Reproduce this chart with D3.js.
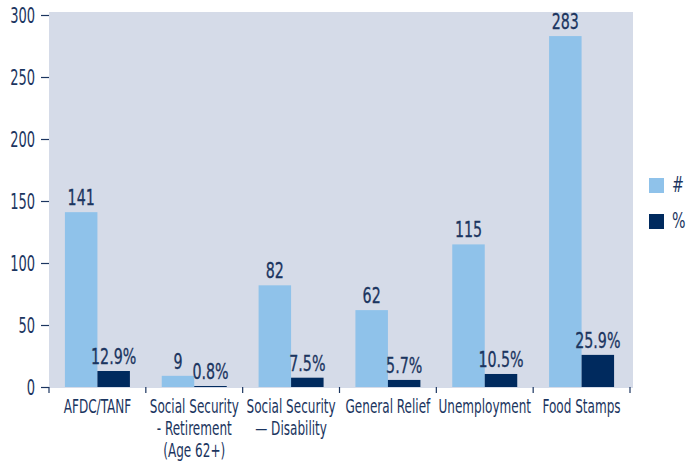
<!DOCTYPE html>
<html>
<head>
<meta charset="utf-8">
<script src="https://cdn.jsdelivr.net/npm/d3@7"></script>
<style>
  html, body { margin: 0; padding: 0; background: #ffffff; }
  svg { display: block; }
  text { font-family: "DejaVu Sans Condensed", "DejaVu Sans", sans-serif; fill: #1b3560; }
</style>
</head>
<body>
<svg id="chart" width="687" height="464"></svg>
<script>
// Program categories (each entry is a list of label lines)
const categories = ["AFDC/TANF", "Social Security Retirement", "Social Security Disability", "General Relief", "Unemployment", "Food Stamps"];
const categoryLines = [
  ["AFDC/TANF"],
  ["Social Security", "- Retirement", "(Age 62+)"],
  ["Social Security", "\u2014 Disability"],
  ["General Relief"],
  ["Unemployment"],
  ["Food Stamps"]
];
// Series: count of people and percentage
const seriesNames = ["#", "%"];
const countValues = [141, 9, 82, 62, 115, 283];
const percentValues = [12.9, 0.8, 7.5, 5.7, 10.5, 25.9];
const yTicks = [0, 50, 100, 150, 200, 250, 300];

const colors = { "#": "#8fc2ea", "%": "#002a5e" };
const textColor = "#1b3560";

const svg = d3.select("#chart");

const plot = { left: 49, right: 633, top: 12, bottom: 388 };

const y = d3.scaleLinear().domain([0, 300]).range([387, 15]);
const x0 = d3.scaleBand().domain(categories).range([49, 630]).paddingInner(0).paddingOuter(0);
const x1 = d3.scaleBand().domain(seriesNames).range([0, x0.bandwidth()]).paddingInner(0).paddingOuter(0.49);

// Condensed text helper
function label(parent, xPos, yPos, str, anchor, size, squeeze) {
  const g = parent.append("g").attr("transform", `translate(${xPos},${yPos})`);
  g.append("text")
    .attr("transform", `scale(${squeeze},1)`)
    .attr("text-anchor", anchor)
    .attr("font-size", size)
    .text(str);
  return g;
}

// Plot background
svg.append("rect")
  .attr("x", plot.left).attr("y", plot.top)
  .attr("width", plot.right - plot.left).attr("height", plot.bottom - plot.top)
  .attr("fill", "#d5dbe8");

// Y axis
const yAxis = d3.axisLeft(y).tickValues(yTicks).tickSize(8).tickFormat("");
const yG = svg.append("g").attr("transform", `translate(${plot.left},0)`).call(yAxis);
yG.select(".domain").remove();
yG.selectAll(".tick line").attr("stroke", textColor).attr("stroke-width", 1.2);
yTicks.forEach(t => label(svg, 35, y(t) + 7.5, String(t), "end", 21, 0.69));

// X axis boundary ticks
const bounds = categories.map(c => x0(c)).concat([x0(categories[categories.length - 1]) + x0.bandwidth()]);
svg.append("g").selectAll("line").data(bounds).join("line")
  .attr("x1", d => d).attr("x2", d => d)
  .attr("y1", 387).attr("y2", 393)
  .attr("stroke", textColor).attr("stroke-width", 1.2);

// Bars
const rows = categories.map((c, i) => ({ cat: c, vals: [
  { key: "#", v: countValues[i], txt: String(countValues[i]) },
  { key: "%", v: percentValues[i], txt: percentValues[i].toFixed(1) + "%" }
]}));

const groups = svg.append("g").selectAll("g").data(rows).join("g")
  .attr("transform", d => `translate(${x0(d.cat)},0)`);

groups.selectAll("rect").data(d => d.vals).join("rect")
  .attr("x", d => x1(d.key))
  .attr("y", d => y(d.v))
  .attr("width", x1.bandwidth())
  .attr("height", d => y(0) - y(d.v))
  .attr("fill", d => colors[d.key]);

groups.each(function(d) {
  const g = d3.select(this);
  d.vals.forEach(v => {
    const t = label(g, x1(v.key) + x1.bandwidth() / 2, y(v.v) - 7, v.txt, "middle", 22, 0.72);
    t.select("text").attr("stroke", textColor).attr("stroke-width", 0.3);
  });
});

// Category labels
categories.forEach((c, i) => {
  const cx = x0(c) + x0.bandwidth() / 2;
  categoryLines[i].forEach((line, j) => {
    label(svg, cx, 413 + j * 22, line, "middle", 20, 0.67);
  });
});

// Legend
const legend = svg.append("g");
seriesNames.forEach((s, i) => {
  const ly = 178 + i * 36;
  legend.append("rect").attr("x", 649).attr("y", ly).attr("width", 15).attr("height", 15).attr("fill", colors[s]);
  label(legend, 672, ly + 14, s, "start", 21, 0.75);
});
</script>
</body>
</html>
